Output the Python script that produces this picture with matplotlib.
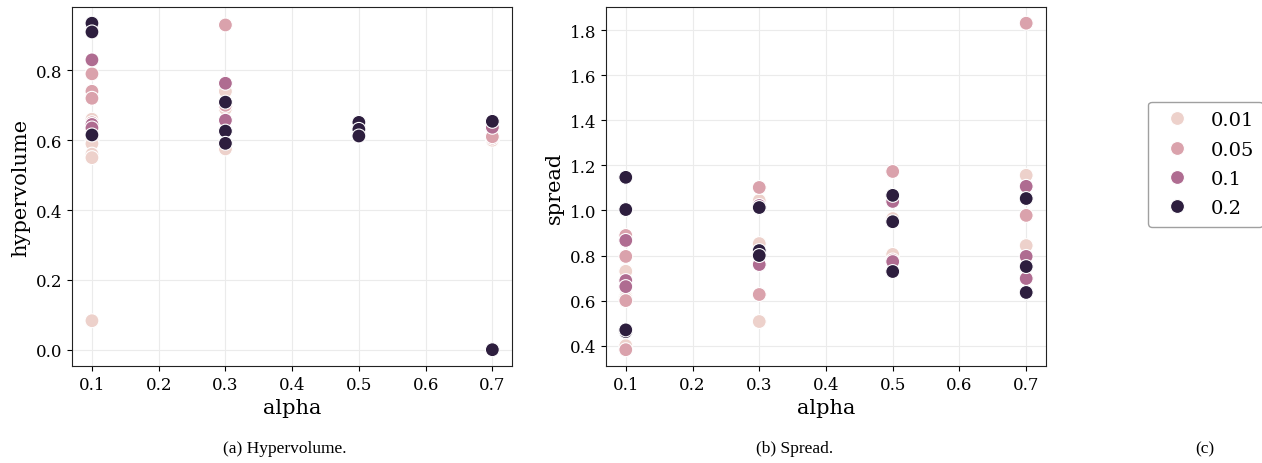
import matplotlib
matplotlib.use("Agg")
import matplotlib.pyplot as plt
import seaborn as sns
import pandas as pd

# hypervolume per (alpha, lr) run
hv_alpha = [0.1] * 17 + [0.3] * 10 + [0.5] * 6 + [0.7] * 6
hv_lr = ([0.01] * 6 + [0.05] * 5 + [0.1] * 3 + [0.2] * 3
         + [0.01] * 3 + [0.05] * 2 + [0.1] * 2 + [0.2] * 3
         + [0.01, 0.05, 0.1, 0.2, 0.2, 0.2]
         + [0.01, 0.05, 0.05, 0.1, 0.2, 0.2])
hv_value = [0.66, 0.60, 0.59, 0.56, 0.55, 0.083,
            0.79, 0.74, 0.72, 0.65, 0.63,
            0.83, 0.645, 0.635,
            0.935, 0.91, 0.615,
            0.74, 0.69, 0.575,
            0.93, 0.70,
            0.763, 0.657,
            0.709, 0.626, 0.591,
            0.61, 0.615, 0.62, 0.651, 0.631, 0.612,
            0.60, 0.606, 0.61, 0.637, 0.654, 0.0]

# spread per (alpha, lr) run
sp_alpha = [0.1] * 15 + [0.3] * 10 + [0.5] * 9 + [0.7] * 11
sp_lr = ([0.01] * 4 + [0.05] * 4 + [0.1] * 3 + [0.2] * 4
         + [0.01] * 3 + [0.05] * 2 + [0.1] * 2 + [0.2] * 3
         + [0.01] * 2 + [0.05] * 2 + [0.1] * 2 + [0.2] * 3
         + [0.01] * 2 + [0.05] * 3 + [0.1] * 3 + [0.2] * 3)
sp_value = [0.73, 0.62, 0.40, 0.61,
            0.889, 0.796, 0.60, 0.382,
            0.867, 0.689, 0.662,
            1.147, 1.004, 0.462, 0.47,
            1.044, 0.853, 0.507,
            1.102, 0.627,
            1.022, 0.76,
            1.013, 0.822, 0.80,
            0.964, 0.805,
            1.173, 0.78,
            1.04, 0.773,
            1.067, 0.95, 0.729,
            1.156, 0.844,
            1.831, 0.978, 0.70,
            1.107, 0.796, 0.698,
            1.053, 0.751, 0.636]

hv = pd.DataFrame({"alpha": hv_alpha, "lr": hv_lr, "hypervolume": hv_value})
sp = pd.DataFrame({"alpha": sp_alpha, "lr": sp_lr, "spread": sp_value})

plt.rcParams["font.family"] = "DejaVu Serif"
plt.rcParams["xtick.labelsize"] = 12
plt.rcParams["ytick.labelsize"] = 12

fig = plt.figure(figsize=(12.62, 4.64), dpi=100)
ax1 = fig.add_axes([0.057, 0.209, 0.349, 0.774])
ax2 = fig.add_axes([0.480, 0.209, 0.349, 0.774])

for ax, df, col in [(ax1, hv, "hypervolume"), (ax2, sp, "spread")]:
    ax.grid(True, color="#ebebeb", linewidth=0.8)
    ax.set_axisbelow(True)
    sns.scatterplot(data=df, x="alpha", y=col, hue="lr", ax=ax, s=100,
                    edgecolor="white", linewidth=0.8, legend=(ax is ax2))
    ax.set_xlabel("alpha", fontsize=15)
    ax.set_ylabel(col, fontsize=15)
    ax.set_xticks([0.1, 0.2, 0.3, 0.4, 0.5, 0.6, 0.7])
    for s in ax.spines.values():
        s.set_color("#222222")

handles, labels = ax2.get_legend_handles_labels()
ax2.get_legend().remove()
fig.legend(handles, ["0.01", "0.05", "0.1", "0.2"], loc="center left",
           bbox_to_anchor=(0.902, 0.644), fontsize=14, frameon=True,
           edgecolor="#888888", handletextpad=0.7, labelspacing=0.58,
           borderpad=0.5)

cap = dict(fontsize=12.5, family="Liberation Serif", ha="center", va="center")
fig.text(0.226, 0.032, "(a) Hypervolume.", **cap)
fig.text(0.630, 0.032, "(b) Spread.", **cap)
fig.text(0.955, 0.032, "(c)", **cap)

fig.savefig("out.png", dpi=100)
